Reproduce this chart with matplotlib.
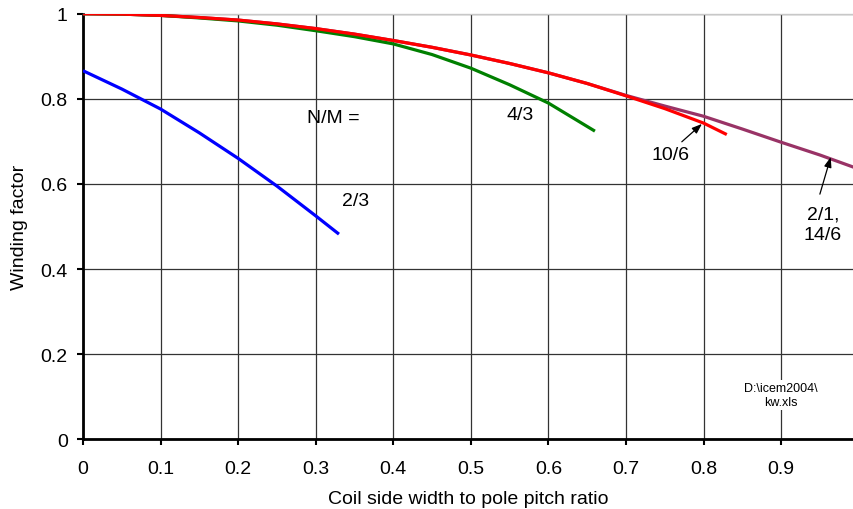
import matplotlib
matplotlib.use("Agg")
from matplotlib import pyplot as plt

plt.rcParams['font.family'] = ['Liberation Sans', 'DejaVu Sans']

# N/M = 2/3
x_23 = [0.0, 0.05, 0.1, 0.15, 0.2, 0.25, 0.3, 0.33]
kw_23 = [0.866, 0.823, 0.776, 0.72, 0.66, 0.595, 0.525, 0.482]

# N/M = 4/3
x_43 = [0.0, 0.05, 0.1, 0.15, 0.2, 0.25, 0.3, 0.35, 0.4, 0.45, 0.5, 0.55, 0.6, 0.66]
kw_43 = [1.0, 0.999, 0.996, 0.99, 0.983, 0.973, 0.96, 0.946, 0.929, 0.904, 0.872, 0.833, 0.79, 0.724]

# N/M = 2/1, 14/6
x_21 = [0.0, 0.05, 0.1, 0.15, 0.2, 0.25, 0.3, 0.35, 0.4, 0.45, 0.5, 0.55, 0.6, 0.65, 0.7,
        0.75, 0.8, 0.85, 0.9, 0.95, 0.994]
kw_21 = [1.0, 0.999, 0.996, 0.991, 0.985, 0.976, 0.965, 0.952, 0.937, 0.921, 0.903, 0.883, 0.861,
         0.836, 0.808, 0.783, 0.759, 0.729, 0.698, 0.668, 0.639]

# N/M = 10/6
x_106 = [0.0, 0.05, 0.1, 0.15, 0.2, 0.25, 0.3, 0.35, 0.4, 0.45, 0.5, 0.55, 0.6, 0.65, 0.7,
         0.75, 0.8, 0.83]
kw_106 = [1.0, 0.999, 0.996, 0.991, 0.985, 0.976, 0.965, 0.952, 0.937, 0.921, 0.903, 0.883, 0.861,
          0.836, 0.807, 0.777, 0.743, 0.716]

xticks = [0, 0.1, 0.2, 0.3, 0.4, 0.5, 0.6, 0.7, 0.8, 0.9]
xticklabels = ['0', '0.1', '0.2', '0.3', '0.4', '0.5', '0.6', '0.7', '0.8', '0.9']
yticks = [0, 0.2, 0.4, 0.6, 0.8, 1.0]
yticklabels = ['0', '0.2', '0.4', '0.6', '0.8', '1']

fig = plt.figure(figsize=(8.54, 5.10), dpi=100)
ax = fig.add_axes([0.0972, 0.1367, 0.9028, 0.8345])

ax.plot(x_21, kw_21, color='#993366', lw=2.3, solid_capstyle='butt', zorder=3)
ax.plot(x_43, kw_43, color='#008000', lw=2.3, solid_capstyle='butt', zorder=3)
ax.plot(x_106, kw_106, color='#ff0000', lw=2.3, solid_capstyle='butt', zorder=4)
ax.plot(x_23, kw_23, color='#0000ff', lw=2.3, solid_capstyle='butt', zorder=3)

ax.set_xlim(0, 0.994)
ax.set_ylim(0, 1)
ax.set_xticks(xticks)
ax.set_xticklabels(xticklabels)
ax.set_yticks(yticks)
ax.set_yticklabels(yticklabels)
ax.tick_params(labelsize=14, length=4, width=1.5, color='black')
ax.tick_params(axis='x', pad=11)
ax.tick_params(axis='y', pad=7)
ax.grid(True, color='#333333', lw=0.9)
ax.set_axisbelow(True)

ax.spines['left'].set_linewidth(2)
ax.spines['bottom'].set_linewidth(2)
ax.spines['top'].set_color('#c8c8c8')
ax.spines['top'].set_linewidth(1)
ax.spines['right'].set_visible(False)

ax.set_xlabel('Coil side width to pole pitch ratio', fontsize=14, labelpad=9)
ax.set_ylabel('Winding factor', fontsize=14, labelpad=9)

ax.text(0.289, 0.756, 'N/M =', fontsize=14, va='center')
ax.text(0.351, 0.561, '2/3', fontsize=14, ha='center', va='center')
ax.text(0.563, 0.764, '4/3', fontsize=14, ha='center', va='center')
ax.text(0.758, 0.670, '10/6', fontsize=14, ha='center', va='center')
ax.text(0.954, 0.506, '2/1,\n14/6', fontsize=14, ha='center', va='center', linespacing=1.25)
arrow = dict(arrowstyle='-|>,head_length=0.6,head_width=0.22', color='black', lw=0.9,
             shrinkA=0, shrinkB=0)
ax.annotate('', xy=(0.798, 0.741), xytext=(0.772, 0.699), arrowprops=arrow, zorder=5)
ax.annotate('', xy=(0.964, 0.663), xytext=(0.950, 0.576), arrowprops=arrow, zorder=5)
ax.text(0.9, 0.104, 'D:\\icem2004\\\nkw.xls', fontsize=9, ha='center', va='center',
        linespacing=1.3, bbox=dict(facecolor='white', edgecolor='none', pad=1))

fig.savefig('out.png', dpi=100)
